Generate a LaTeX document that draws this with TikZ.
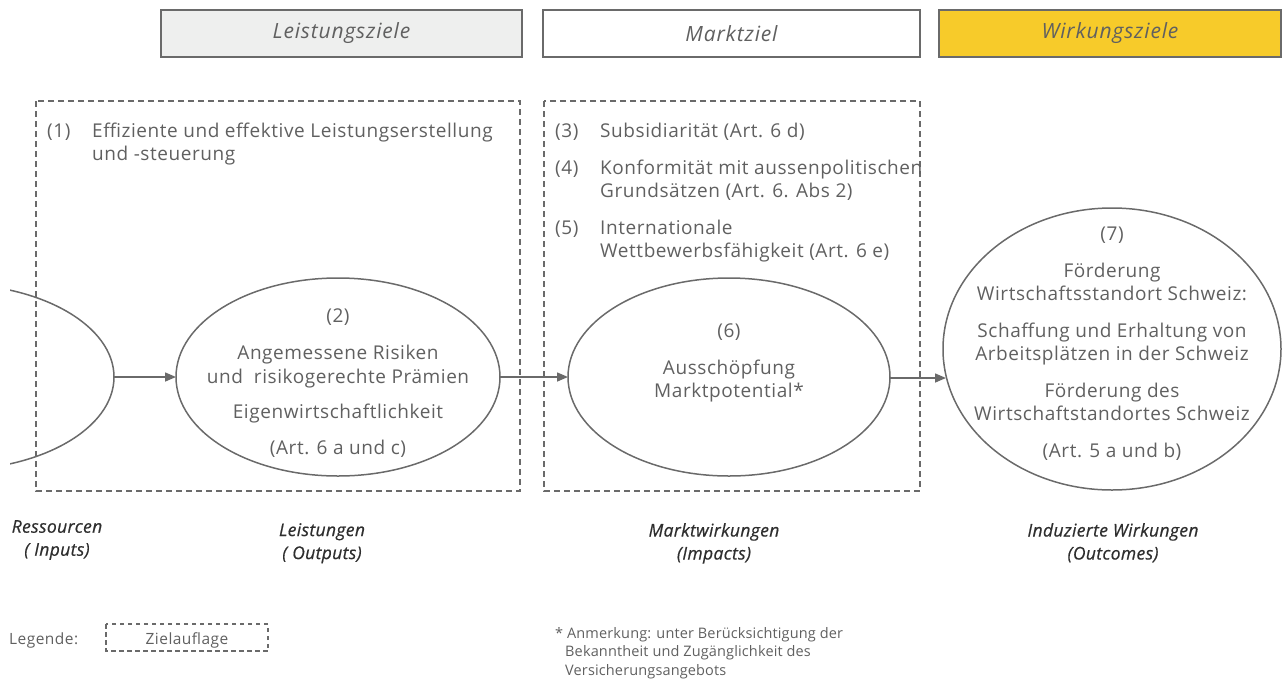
\documentclass[tikz,border=0pt]{standalone}
\usepackage{fontspec}
\setmainfont[LetterSpace=3]{Open Sans}
\newfontfamily\hdrfont[LetterSpace=4]{Open Sans}
\newfontfamily\labfont[LetterSpace=2,FakeBold=0.6]{Open Sans}
\newfontfamily\smallfont[LetterSpace=3]{Open Sans}
\newfontfamily\notefont[LetterSpace=1]{Open Sans}
\usetikzlibrary{arrows.meta}
\definecolor{txt}{HTML}{606060}
\definecolor{ln}{HTML}{6A6A6A}
\definecolor{hdrgray}{HTML}{EEEFEE}
\definecolor{hdryellow}{HTML}{F7CB2A}
\definecolor{lbl}{HTML}{2E2E2E}
\tikzset{
  hdr/.style={draw=ln, line width=1.5pt, minimum height=47pt, inner sep=0pt, font=\hdrfont\fontsize{21}{24}\selectfont\itshape, text=txt},
  zbox/.style={draw=ln, line width=1.3pt, dash pattern=on 6pt off 4pt},
  body/.style={font=\fontsize{19}{23}\selectfont, text=txt, inner sep=0pt},
  lab/.style={font=\labfont\fontsize{17.5}{23}\selectfont\itshape, text=lbl, inner sep=0pt, align=center},
  conn/.style={draw=ln, line width=1.5pt, -{Triangle[length=11pt,width=9pt]}},
}
\newcommand{\numlbl}[1]{\makebox[45pt][l]{#1}}
\begin{document}
\begin{tikzpicture}[x=1pt,y=-1pt]
\useasboundingbox (0,0) rectangle (1283,689);
% headers
\node[hdr, fill=hdrgray, minimum width=361pt] (h1) at (341.5,33.5) {Leistungsziele};
\node[hdr, fill=white, minimum width=377pt] (h2) at (731.5,33.5) {Marktziel};
\node[hdr, fill=hdryellow, minimum width=342pt] (h3) at (1110,33.5) {Wirkungsziele};
% dashed boxes
\draw[zbox] (36,101) rectangle (520,491);
\draw[zbox] (544,101) rectangle (920,491);
% left partial ellipse
\begin{scope}
\clip (10,0) rectangle (200,689);
\draw[ln, line width=1.5pt] (-48,377) ellipse [x radius=162, y radius=93];
\end{scope}
\coordinate (e1) at (114,377);
% ellipses
\draw[ln, line width=1.5pt] (338,377) ellipse [x radius=162, y radius=99];
\coordinate (e2l) at (176,377);
\coordinate (e2r) at (500,377);
\draw[ln, line width=1.5pt] (729,377) ellipse [x radius=161, y radius=99];
\coordinate (e3l) at (568,377);
\coordinate (e3r) at (890,378);
\draw[ln, line width=1.5pt] (1112,349) ellipse [x radius=169, y radius=141];
\coordinate (e4l) at (946,378);
% arrows
\draw[conn] (e1) -- (e2l);
\draw[conn] (e2r) -- (e3l);
\draw[conn] (e3r) -- (e4l);
% texts box 1
\node[body, anchor=base west] (t1) at (47,137) {\numlbl{(1)}Effiziente und effektive Leistungserstellung};
\node[body, anchor=base west] (t1b) at (92,160) {und -steuerung};
% texts box 2
\node[body, anchor=base west] (t3) at (555,137) {\numlbl{(3)}Subsidiarität (Art. 6 d)};
\node[body, anchor=base west] (t4) at (555,174) {\numlbl{(4)}Konformität mit aussenpolitischen};
\node[body, anchor=base west] (t4b) at (600,197) {Grundsätzen (Art. 6. Abs 2)};
\node[body, anchor=base west] (t5) at (555,234) {\numlbl{(5)}Internationale};
\node[body, anchor=base west] (t5b) at (600,257) {Wettbewerbsfähigkeit (Art. 6 e)};
% ellipse 2 text
\node[body, anchor=base] (n2) at (338,322) {(2)};
\node[body, anchor=base] (n2a) at (338,359) {Angemessene Risiken};
\node[body, anchor=base] (n2b) at (338,383) {und\ \ risikogerechte Prämien};
\node[body, anchor=base] (n2c) at (338,418) {Eigenwirtschaftlichkeit};
\node[body, anchor=base] (n2d) at (338,454) {(Art. 6 a und c)};
% ellipse 6 text
\node[body, anchor=base] (n6) at (729,337) {(6)};
\node[body, anchor=base] (n6a) at (729,374) {Ausschöpfung};
\node[body, anchor=base] (n6b) at (729,397) {Marktpotential*};
% ellipse 7 text
\node[body, anchor=base] (n7) at (1112,240) {(7)};
\node[body, anchor=base] (n7a) at (1112,277) {Förderung};
\node[body, anchor=base] (n7b) at (1112,300) {Wirtschaftsstandort Schweiz:};
\node[body, anchor=base] (n7c) at (1112,337) {Schaffung und Erhaltung von};
\node[body, anchor=base] (n7d) at (1112,360) {Arbeitsplätzen in der Schweiz};
\node[body, anchor=base] (n7e) at (1112,397) {Förderung des};
\node[body, anchor=base] (n7f) at (1112,420) {Wirtschaftstandortes Schweiz};
\node[body, anchor=base] (n7g) at (1112,457) {(Art. 5 a und b)};
% bottom labels
\node[lab, anchor=north] (l1) at (57,520) {Ressourcen\\( Inputs)};
\node[lab, anchor=north] (l2) at (322,523) {Leistungen\\( Outputs)};
\node[lab, anchor=north] (l3) at (714,523) {Marktwirkungen\\(Impacts)};
\node[lab, anchor=north] (l4) at (1113,523) {Induzierte Wirkungen\\(Outcomes)};
% legend
\node[font=\smallfont\fontsize{15.5}{18}\selectfont, text=txt, anchor=base west, inner sep=0pt] (leg) at (9,644) {Legende:};
\draw[ln, line width=1.2pt, dash pattern=on 4.5pt off 3.5pt] (106,624) rectangle (268,651);
\node[font=\smallfont\fontsize{15.5}{18}\selectfont, text=txt, anchor=base, inner sep=0pt] (zl) at (187,644) {Zielauflage};
% footnote
\node[font=\notefont\fontsize{14.5}{18.5}\selectfont, text=txt, anchor=north west, inner sep=0pt, align=left] (fn) at (555,627) {* Anmerkung: unter Berücksichtigung der\\\hspace*{10pt}Bekanntheit und Zugänglichkeit des\\\hspace*{10pt}Versicherungsangebots};
\end{tikzpicture}
\end{document}
